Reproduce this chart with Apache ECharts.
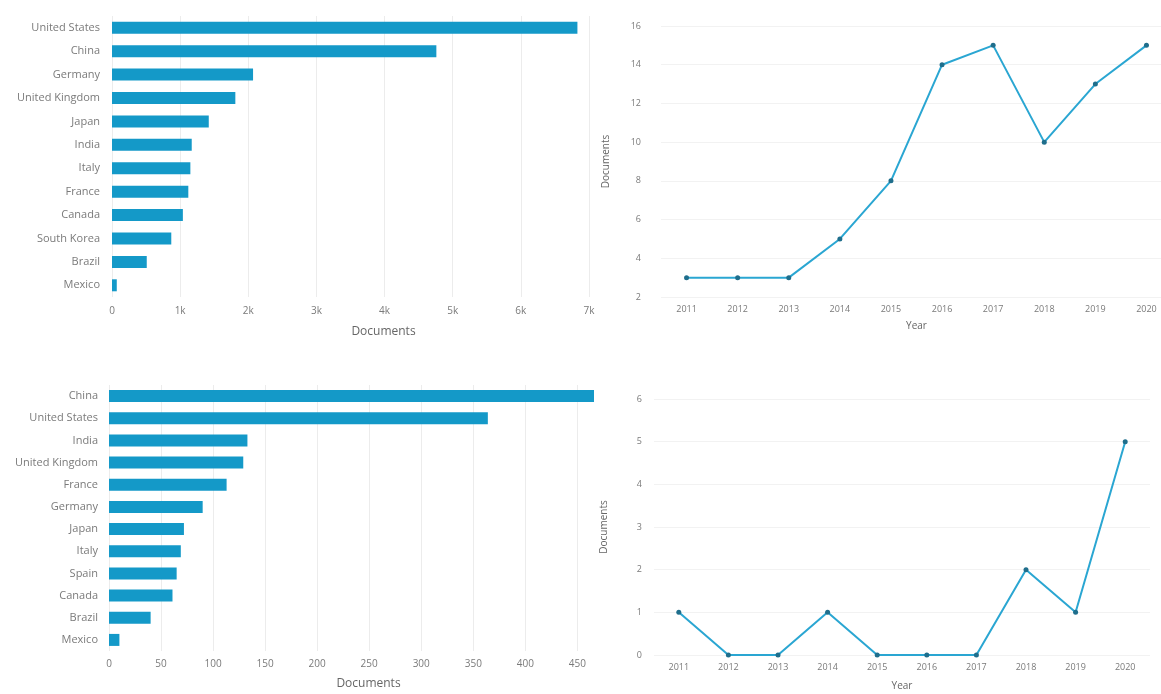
<!DOCTYPE html>
<html>
<head>
<meta charset="utf-8">
<script src="https://cdn.jsdelivr.net/npm/echarts@6/dist/echarts.min.js"></script>
<style>
  html, body { margin: 0; padding: 0; background: #fff; overflow: hidden; }
  #chart { width: 1175px; height: 694px; }
</style>
</head>
<body>
<div id="chart"></div>
<script>
// Documents by country (upper panel)
const countriesTop = ['United States', 'China', 'Germany', 'United Kingdom', 'Japan', 'India',
  'Italy', 'France', 'Canada', 'South Korea', 'Brazil', 'Mexico'];
const docsTop = [6830, 4760, 2070, 1810, 1420, 1170, 1150, 1120, 1040, 870, 510, 70];

// Documents per year (upper panel)
const years = ['2011', '2012', '2013', '2014', '2015', '2016', '2017', '2018', '2019', '2020'];
const yearDocsTop = [3, 3, 3, 5, 8, 14, 15, 10, 13, 15];

// Documents by country (lower panel)
const countriesBottom = ['China', 'United States', 'India', 'United Kingdom', 'France', 'Germany',
  'Japan', 'Italy', 'Spain', 'Canada', 'Brazil', 'Mexico'];
const docsBottom = [466, 364, 133, 129, 113, 90, 72, 69, 65, 61, 40, 10];

// Documents per year (lower panel)
const yearDocsBottom = [1, 0, 0, 1, 0, 0, 0, 2, 1, 5];

const FONT = 'Open Sans';
const BAR = '#1499c8';
const LINE = '#2aa6d2';
const DOT = '#1f6e8c';
const TICK = { color: '#7a7a7a', fontFamily: FONT, fontSize: 10 };
const GRIDLINE = { show: true, showMaxLine: false, lineStyle: { color: '#ececec', width: 1 } };

function kFormat(v) { return v === 0 ? '0' : (v / 1000) + 'k'; }

const chart = echarts.init(document.getElementById('chart'), null, { renderer: 'canvas' });

chart.setOption({
  animation: false,
  backgroundColor: '#fff',
  grid: [
    { left: 112, top: 16, width: 477, height: 281 },
    { left: 661, top: 26, width: 511, height: 271 },
    { left: 109, top: 385, width: 485, height: 266 },
    { left: 654, top: 399, width: 496, height: 256 }
  ],
  xAxis: [
    {
      gridIndex: 0, type: 'value', min: 0, max: 7000, interval: 1000,
      axisLine: { show: false }, axisTick: { show: false },
      axisLabel: Object.assign({ margin: 9, formatter: kFormat }, TICK),
      splitLine: { show: true, lineStyle: { color: '#ececec', width: 1 } },
      name: 'Documents', nameLocation: 'middle', nameGap: 29,
      nameTextStyle: { color: '#666', fontFamily: FONT, fontSize: 12, padding: [0, 0, 0, 66] }
    },
    {
      gridIndex: 1, type: 'category', data: years, boundaryGap: true,
      axisLine: { show: false }, axisTick: { show: false },
      axisLabel: Object.assign({ margin: 8 }, TICK, { fontSize: 9 }),
      splitLine: { show: false },
      name: 'Year', nameLocation: 'middle', nameGap: 24,
      nameTextStyle: { color: '#666', fontFamily: FONT, fontSize: 10 }
    },
    {
      gridIndex: 2, type: 'value', min: 0, max: 'dataMax', interval: 50,
      axisLine: { show: false }, axisTick: { show: false },
      axisLabel: Object.assign({ margin: 8, showMaxLabel: false }, TICK),
      splitLine: GRIDLINE,
      name: 'Documents', nameLocation: 'middle', nameGap: 27,
      nameTextStyle: { color: '#666', fontFamily: FONT, fontSize: 12, padding: [0, 0, 0, 34] }
    },
    {
      gridIndex: 3, type: 'category', data: years, boundaryGap: true,
      axisLine: { show: false }, axisTick: { show: false },
      axisLabel: Object.assign({ margin: 8 }, TICK, { fontSize: 9 }),
      splitLine: { show: false },
      name: 'Year', nameLocation: 'middle', nameGap: 26,
      nameTextStyle: { color: '#666', fontFamily: FONT, fontSize: 10 }
    }
  ],
  yAxis: [
    {
      gridIndex: 0, type: 'category', data: countriesTop, inverse: true,
      axisLine: { show: false }, axisTick: { show: false },
      axisLabel: Object.assign({ margin: 12 }, TICK, { fontSize: 11 })
    },
    {
      gridIndex: 1, type: 'value', min: 2, max: 16, interval: 2,
      axisLine: { show: false }, axisTick: { show: false },
      axisLabel: Object.assign({ margin: 20 }, TICK, { fontSize: 9 }),
      splitLine: { show: true, lineStyle: { color: '#f2f2f2' } },
      name: 'Documents', nameLocation: 'middle', nameGap: 50,
      nameTextStyle: { color: '#666', fontFamily: FONT, fontSize: 10 }
    },
    {
      gridIndex: 2, type: 'category', data: countriesBottom, inverse: true,
      axisLine: { show: false }, axisTick: { show: false },
      axisLabel: Object.assign({ margin: 11 }, TICK, { fontSize: 11 })
    },
    {
      gridIndex: 3, type: 'value', min: 0, max: 6, interval: 1,
      axisLine: { show: false }, axisTick: { show: false },
      axisLabel: Object.assign({ margin: 12 }, TICK, { fontSize: 9 }),
      splitLine: { show: true, lineStyle: { color: '#f2f2f2' } },
      name: 'Documents', nameLocation: 'middle', nameGap: 45,
      nameTextStyle: { color: '#666', fontFamily: FONT, fontSize: 10 }
    }
  ],
  series: [
    {
      type: 'bar', xAxisIndex: 0, yAxisIndex: 0, data: docsTop,
      barWidth: 12, itemStyle: { color: BAR }
    },
    {
      type: 'line', xAxisIndex: 1, yAxisIndex: 1, data: yearDocsTop,
      symbol: 'circle', symbolSize: 5,
      lineStyle: { color: LINE, width: 2 }, itemStyle: { color: DOT }
    },
    {
      type: 'bar', xAxisIndex: 2, yAxisIndex: 2, data: docsBottom,
      barWidth: 12, itemStyle: { color: BAR }
    },
    {
      type: 'line', xAxisIndex: 3, yAxisIndex: 3, data: yearDocsBottom,
      symbol: 'circle', symbolSize: 5,
      lineStyle: { color: LINE, width: 2 }, itemStyle: { color: DOT }
    }
  ]
});
</script>
</body>
</html>
